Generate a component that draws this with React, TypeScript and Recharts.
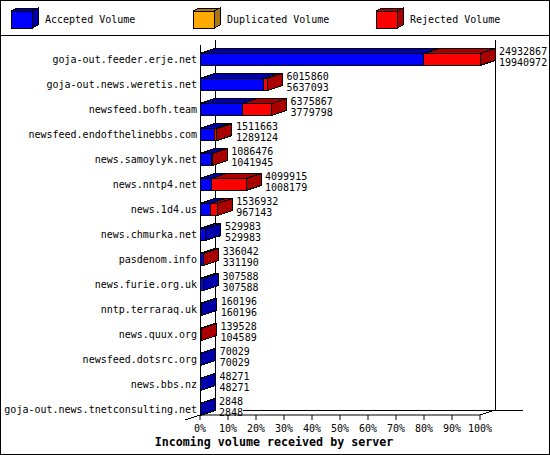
import { BarChart, Bar, XAxis, YAxis, LabelList } from 'recharts';

const servers = [
  'goja-out.feeder.erje.net',
  'goja-out.news.weretis.net',
  'newsfeed.bofh.team',
  'newsfeed.endofthelinebbs.com',
  'news.samoylyk.net',
  'news.nntp4.net',
  'news.1d4.us',
  'news.chmurka.net',
  'pasdenom.info',
  'news.furie.org.uk',
  'nntp.terraraq.uk',
  'news.quux.org',
  'newsfeed.dotsrc.org',
  'news.bbs.nz',
  'goja-out.news.tnetconsulting.net',
];
const totalVolume = [24932867, 6015860, 6375867, 1511663, 1086476, 4099915, 1536932, 529983, 336042, 307588, 160196, 139528, 70029, 48271, 2848];
const acceptedVolume = [19940972, 5637093, 3779798, 1289124, 1041945, 1008179, 967143, 529983, 331190, 307588, 160196, 104589, 70029, 48271, 2848];
const rejectedVolume = [4991895, 378767, 2596069, 222539, 44531, 3091736, 569789, 0, 4852, 0, 0, 34939, 0, 0, 0];
const tickPercents = [0, 10, 20, 30, 40, 50, 60, 70, 80, 90, 100];
const legendNames = ['Accepted Volume', 'Duplicated Volume', 'Rejected Volume'];

const BLUE = ['#0000ff', '#0000aa'];
const ORANGE = ['#ffaa00', '#aa7711'];
const RED = ['#ff0000', '#aa0000'];
const legendColors = [BLUE, ORANGE, RED];
const legendX = [11, 193, 376];

const FONT = '"DejaVu Sans Mono", "Liberation Mono", monospace';
const maxVolume = totalVolume[0];
const DX = 15; // 3d depth of the bars
const DY = 5;
const BAR_SHIFT = 6.5; // bars sit low in their band, the front plane is offset

const data = servers.map((name, i) => ({
  name,
  total: totalVolume[i],
  accepted: acceptedVolume[i],
  rejected: rejectedVolume[i],
}));

function Box3d({ x, y, width, height, colors, side }: any) {
  const top = y + BAR_SHIFT;
  const pts = (p: number[][]) => p.map((q) => q.join(',')).join(' ');
  return (
    <g stroke="#000" strokeWidth={1} shapeRendering="crispEdges">
      <polygon fill={colors[1]} points={pts([[x, top], [x + DX, top - DY], [x + width + DX, top - DY], [x + width, top]])} />
      {side && (
        <polygon fill={colors[1]} points={pts([[x + width, top], [x + width + DX, top - DY], [x + width + DX, top + height - DY], [x + width, top + height]])} />
      )}
      <rect x={x} y={top} width={width} height={height} fill={colors[0]} />
    </g>
  );
}

function ValueLabels({ x, y, width, index }: any) {
  const lx = x + width + DX + 4;
  return (
    <text fontFamily={FONT} fontSize={10} fill="#000" x={lx} y={y + BAR_SHIFT}>
      <tspan x={lx} dy={1}>{totalVolume[index]}</tspan>
      <tspan x={lx} dy={11}>{acceptedVolume[index]}</tspan>
    </text>
  );
}

function ServerTick({ x, y, payload }: any) {
  return (
    <text x={x + 5} y={y + BAR_SHIFT} dy={4} textAnchor="end" fontFamily={FONT} fontSize={10} fill="#000">
      {payload.value}
    </text>
  );
}

function PercentTick({ x, y, payload }: any) {
  return (
    <text x={x} y={y} dy={10} textAnchor="middle" fontFamily={FONT} fontSize={10} fill="#000">
      {Math.round((payload.value / maxVolume) * 100)}%
    </text>
  );
}

function Frame() {
  return (
    <g stroke="#000" strokeWidth={1} shapeRendering="crispEdges" fill="none">
      <rect x={0.5} y={0.5} width={549} height={454} />
      <line x1={0} y1={35.5} x2={550} y2={35.5} />
      <line x1={200.5} y1={45} x2={200.5} y2={415} />
      <line x1={215.5} y1={40} x2={215.5} y2={410} />
      <line x1={495.5} y1={40} x2={495.5} y2={410} />
      <line x1={243} y1={410.5} x2={523} y2={410.5} />
      <line x1={185} y1={420} x2={200} y2={415} />
      <line x1={480} y1={415} x2={495} y2={410} />
    </g>
  );
}

function LegendRow() {
  return (
    <g>
      {legendNames.map((name, i) => (
        <g key={name}>
          <g stroke="#000" shapeRendering="crispEdges">
            <polygon fill={legendColors[i][1]} points={`${legendX[i]},11 ${legendX[i] + 6},8 ${legendX[i] + 27},8 ${legendX[i] + 21},11`} />
            <polygon fill={legendColors[i][1]} points={`${legendX[i] + 21},11 ${legendX[i] + 27},8 ${legendX[i] + 27},25 ${legendX[i] + 21},28`} />
            <rect x={legendX[i]} y={11} width={21} height={17} fill={legendColors[i][0]} />
          </g>
          <text x={legendX[i] + 34} y={23} fontFamily={FONT} fontSize={10} fill="#000">{name}</text>
        </g>
      ))}
    </g>
  );
}

export default function App() {
  return (
    <div style={{ position: 'absolute', left: 0, top: 0, width: 550, height: 455, background: '#fff' }}>
      <BarChart
        width={550}
        height={455}
        layout="vertical"
        data={data}
        margin={{ top: 40, right: 70, bottom: 0, left: 0 }}
        barSize={12}
      >
        <Frame />
        <LegendRow />
        <XAxis
          type="number"
          domain={[0, maxVolume]}
          ticks={tickPercents.map((p) => (p / 100) * maxVolume)}
          tick={<PercentTick />}
          tickSize={5}
          stroke="#000"
          height={40}
          interval={0}
        />
        <YAxis
          type="category"
          dataKey="name"
          width={200}
          tick={<ServerTick />}
          tickLine={false}
          axisLine={false}
          interval={0}
        />
        <Bar
          dataKey="accepted"
          stackId="v"
          isAnimationActive={false}
          shape={(p: any) => <Box3d {...p} colors={BLUE} side />}
        />
        <Bar
          dataKey="rejected"
          stackId="v"
          isAnimationActive={false}
          shape={(p: any) => (p.width > 0 ? <Box3d {...p} colors={RED} side /> : <g />)}
        >
          <LabelList dataKey="total" content={<ValueLabels />} />
        </Bar>
        <text x={274} y={446} textAnchor="middle" fontFamily={FONT} fontSize={11.67} fontWeight="bold" fill="#000">
          Incoming volume received by server
        </text>
      </BarChart>
    </div>
  );
}
